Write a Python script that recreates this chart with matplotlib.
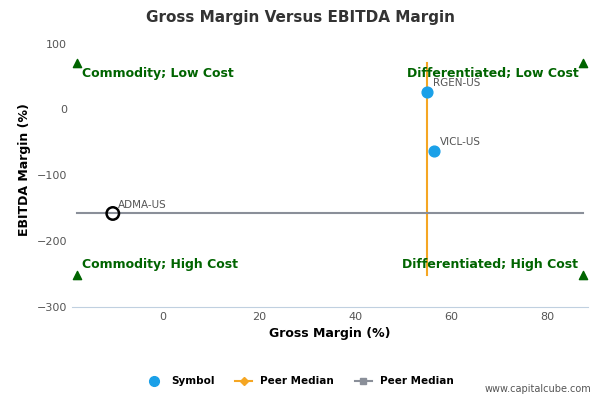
import matplotlib.pyplot as plt
from matplotlib.lines import Line2D

symbols = ["RGEN-US", "VICL-US", "ADMA-US"]
gross_margin = [55.0, 56.5, -10.5]
ebitda_margin = [27.0, -63.0, -158.0]
median_gross = 55.0
median_ebitda = -158.0
x_lo, x_hi = -18.0, 87.5
y_lo, y_hi = -252.0, 71.0

fig = plt.figure(figsize=(6, 4), dpi=100)
ax = fig.add_axes([0.12, 0.2325, 0.86, 0.685])

ax.plot([median_gross, median_gross], [y_lo, y_hi], color="#f5a623", lw=1.5, zorder=2)
ax.plot([x_lo, x_hi], [median_ebitda, median_ebitda], color="#8a8f99", lw=1.5, zorder=2)

ax.scatter(gross_margin[:2], ebitda_margin[:2], s=60, color="#1aa0e8", zorder=3)
ax.scatter(gross_margin[2:], ebitda_margin[2:], s=80, facecolor="none",
           edgecolor="black", linewidths=1.8, zorder=4)
for s, x, y in zip(symbols, gross_margin, ebitda_margin):
    ax.annotate(s, (x, y), xytext=(4, 4), textcoords="offset points",
                fontsize=7.5, color="#555555")

green = "#006400"
ax.scatter([x_lo, x_lo, x_hi, x_hi], [y_hi, y_lo, y_hi, y_lo], marker="^",
           s=35, color=green, zorder=3)
kw = dict(fontsize=9, fontweight="bold", color=green)
ax.text(x_lo + 1, y_hi - 6, "Commodity; Low Cost", ha="left", va="top", **kw)
ax.text(x_hi - 1, y_hi - 6, "Differentiated; Low Cost", ha="right", va="top", **kw)
ax.text(x_lo + 1, y_lo + 6, "Commodity; High Cost", ha="left", va="bottom", **kw)
ax.text(x_hi - 1, y_lo + 6, "Differentiated; High Cost", ha="right", va="bottom", **kw)

ax.set_xlim(-19, 88.5)
ax.set_ylim(-300, 116)
ax.set_xticks([0, 20, 40, 60, 80])
ax.set_yticks([100, 0, -100, -200, -300])
ax.tick_params(labelsize=8, colors="#555555", length=0)
for sp in ["top", "right", "left"]:
    ax.spines[sp].set_visible(False)
ax.spines["bottom"].set_color("#c0d0e0")
ax.set_xlabel("Gross Margin (%)", fontsize=9, fontweight="bold")
ax.set_ylabel("EBITDA Margin (%)", fontsize=9, fontweight="bold")
fig.suptitle("Gross Margin Versus EBITDA Margin", x=0.5, y=0.975, fontsize=11,
             fontweight="bold", color="#333333")

handles = [
    Line2D([], [], marker="o", color="#1aa0e8", ls="none", markersize=7),
    Line2D([], [], marker="D", color="#f5a623", markersize=4, lw=1.5),
    Line2D([], [], marker="s", color="#8a8f99", markersize=5, lw=1.5),
]
fig.legend(handles, ["Symbol", "Peer Median", "Peer Median"], loc="center",
           bbox_to_anchor=(0.5, 0.047), ncol=3, frameon=False,
           prop={"size": 7.5, "weight": "bold"}, handlelength=1.6)
fig.text(0.985, 0.02, "www.capitalcube.com", ha="right", fontsize=7, color="#555555")

fig.savefig("out.png")
